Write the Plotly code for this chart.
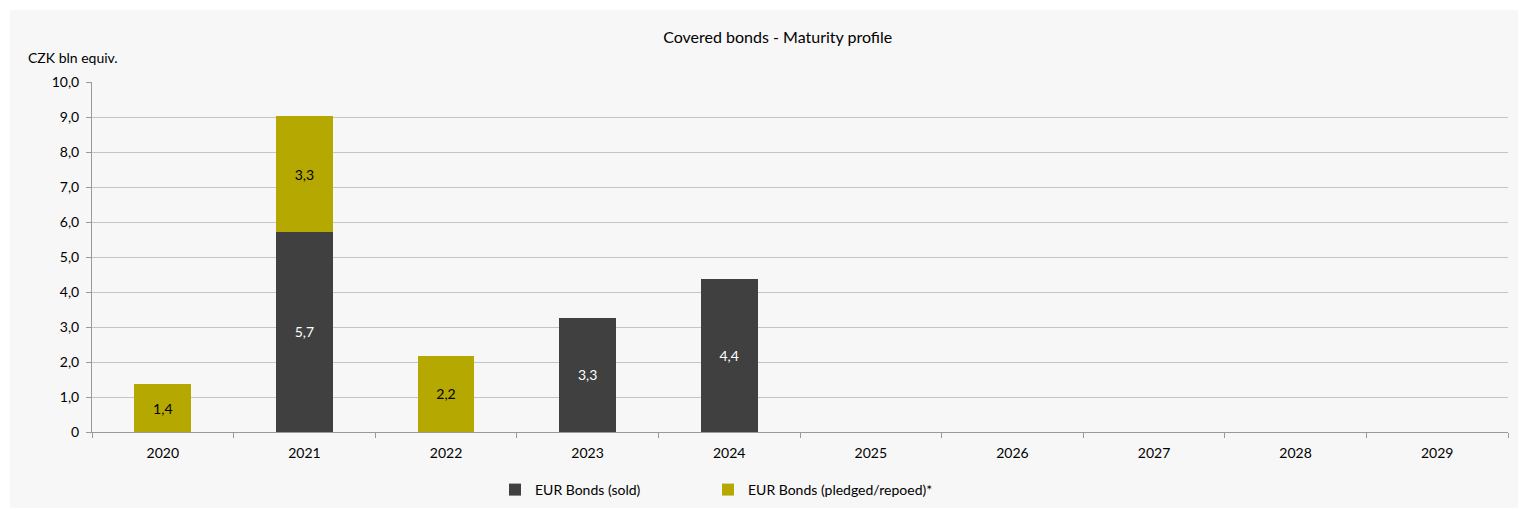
import plotly.graph_objects as go

years = ["2020", "2021", "2022", "2023", "2024", "2025", "2026", "2027", "2028", "2029"]
sold = [None, 5.72, None, 3.26, 4.36, None, None, None, None, None]
pledged = [1.36, 3.3, 2.18, None, None, None, None, None, None, None]
y_ticks = [0, 1, 2, 3, 4, 5, 6, 7, 8, 9, 10]
y_tick_labels = ["0", "1,0", "2,0", "3,0", "4,0", "5,0", "6,0", "7,0", "8,0", "9,0", "10,0"]

def lab(vals):
    return ["" if v is None else f"{v:.1f}".replace(".", ",") for v in vals]

FONT = "Lato"
PH = 350.0
PW = 1416.0
fig = go.Figure()
fig.add_trace(go.Bar(
    x=years, y=sold, name="EUR Bonds (sold)", marker=dict(color="#404040", line=dict(width=0)),
    text=lab(sold), textposition="inside", insidetextanchor="middle", legend="legend",
    textfont=dict(color="white", size=14, family=FONT), hoverinfo="skip"))
fig.add_trace(go.Bar(
    x=years, y=pledged, name="EUR Bonds (pledged/repoed)*", marker=dict(color="#b5a800", line=dict(width=0)),
    text=lab(pledged), textposition="inside", insidetextanchor="middle", legend="legend2",
    textfont=dict(color="black", size=14, family=FONT), hoverinfo="skip"))

leg_common = dict(orientation="h", xanchor="left", y=-58 / PH, yanchor="middle",
                  font=dict(size=14, family=FONT), bgcolor="rgba(0,0,0,0)")
fig.update_layout(
    barmode="stack", bargap=0.6,
    width=1522, height=509,
    margin=dict(l=92, r=14, t=82, b=77, autoexpand=False),
    paper_bgcolor="white", plot_bgcolor="rgba(0,0,0,0)",
    font=dict(family=FONT, size=14, color="black"),
    title=dict(text="Covered bonds - Maturity profile", x=0.511, xanchor="center", y=0.927, yanchor="middle",
               font=dict(size=16, family=FONT, color="black")),
    showlegend=True,
    legend=dict(x=(495 - 92) / PW, **leg_common),
    legend2=dict(x=(708 - 92) / PW, **leg_common),
    uniformtext=dict(minsize=8, mode="show"),
    shapes=[dict(type="rect", xref="paper", yref="paper", layer="below",
                 x0=-82 / PW, x1=1426 / PW, y0=-76 / PH, y1=(PH + 72) / PH,
                 fillcolor="#f7f7f7", line=dict(width=0))],
    annotations=[dict(text="CZK bln equiv.", xref="paper", yref="paper", x=-66 / PW, y=(PH + 25) / PH,
                      xanchor="left", yanchor="middle", showarrow=False,
                      font=dict(size=14, family=FONT, color="black"))],
)
fig.update_xaxes(type="category", tickson="boundaries", ticks="outside", ticklen=5, tickcolor="#999999",
                 showline=True, linecolor="#999999", linewidth=1, showgrid=False,
                 ticklabelstandoff=8,
                 tickfont=dict(size=14, family=FONT, color="black"))
fig.update_yaxes(range=[0, 10], tickvals=y_ticks, ticktext=y_tick_labels, ticks="outside", ticklen=5,
                 tickcolor="#999999", showline=True, linecolor="#999999", linewidth=1,
                 showgrid=True, gridcolor="#c4c4c4", gridwidth=1, zeroline=False,
                 ticklabelstandoff=4,
                 tickfont=dict(size=14, family=FONT, color="black"))

fig.write_html("out.html")
